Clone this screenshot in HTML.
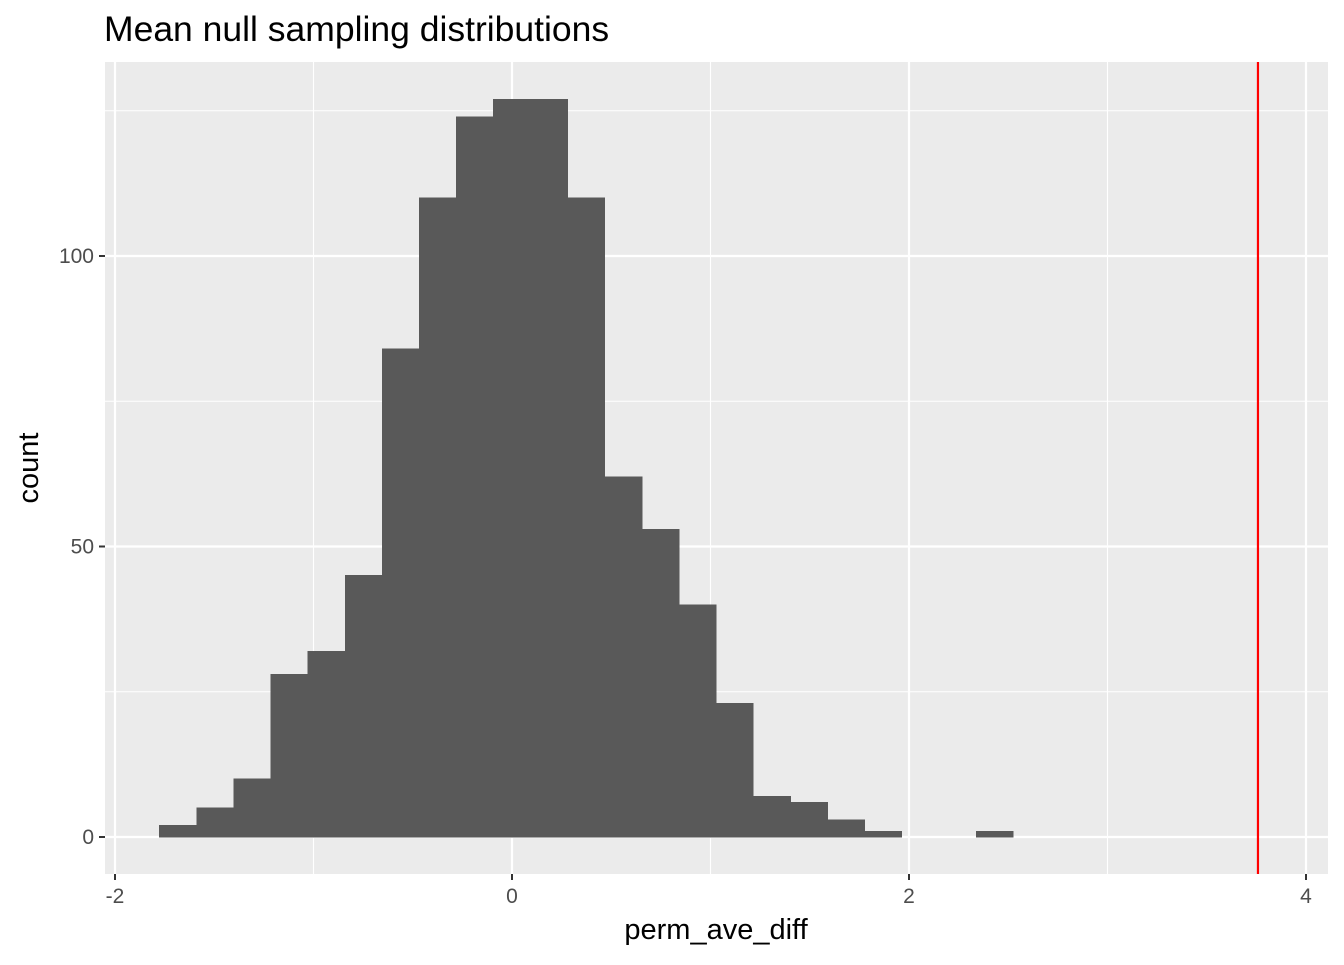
<!DOCTYPE html>
<html><head><meta charset="utf-8"><style>
body{margin:0;background:#fff;}
svg text{font-family:"Liberation Sans",sans-serif;}
</style></head><body>
<svg width="1344" height="960">
<text x="104" y="41" font-size="35.5" fill="#000">Mean null sampling distributions</text>
<rect x="105" y="62" width="1223" height="812" fill="#ebebeb"/>
<g id="grid"></g><g id="bars" shape-rendering="crispEdges"></g><g id="axes"></g>
<text x="716" y="939" font-size="29" text-anchor="middle">perm_ave_diff</text>
<text transform="translate(38,468) rotate(-90)" font-size="29" text-anchor="middle">count</text>
</svg>
<script>
const binStart = -1.776;
const binWidth = 0.187;
const counts = [2,5,10,28,32,45,84,110,124,127,127,110,62,53,40,23,7,6,3,1,0,0,1];
const xTicks = [-2,0,2,4];
const xTickLabels = ["-2","0","2","4"];
const xMinor = [-1,1,3];
const yTicks = [0,50,100];
const yTickLabels = ["0","50","100"];
const yMinor = [25,75,125];
const observed = 3.758;
const NS="http://www.w3.org/2000/svg";
const X=v=>512+v*198.5, Y=v=>837-v*5.81;
const L=105,R=1328,T=62,B=874;
function mk(t,a,p){const e=document.createElementNS(NS,t);for(const k in a)e.setAttribute(k,a[k]);p.appendChild(e);return e;}
const g=document.getElementById('grid'),b=document.getElementById('bars'),ax=document.getElementById('axes');
xMinor.forEach(v=>{const e=mk('line',{x1:X(v),x2:X(v),y1:T,y2:B,stroke:'#fff','stroke-width':1.1},g);

});
yMinor.forEach(v=>{const e=mk('line',{x1:L,x2:R,y1:Y(v),y2:Y(v),stroke:'#fff','stroke-width':1.1},g);

});
xTicks.forEach((v,i)=>{const e=mk('line',{x1:X(v),x2:X(v),y1:T,y2:B,stroke:'#fff','stroke-width':2.2},g);


mk('line',{x1:X(v),x2:X(v),y1:B,y2:B+6,stroke:'#333','stroke-width':2},ax);
const t=mk('text',{x:X(v),y:B+29,'font-size':21,fill:'#4d4d4d','text-anchor':'middle'},ax);t.textContent=xTickLabels[i];

});
yTicks.forEach((v,i)=>{const e=mk('line',{x1:L,x2:R,y1:Y(v),y2:Y(v),stroke:'#fff','stroke-width':2.2},g);


mk('line',{x1:L-6,x2:L,y1:Y(v),y2:Y(v),stroke:'#333','stroke-width':2},ax);
const t=mk('text',{x:L-11,y:Y(v)+7,'font-size':21,fill:'#4d4d4d','text-anchor':'end'},ax);t.textContent=yTickLabels[i];

});
counts.forEach((c,i)=>{if(c<=0)return;const x0=X(binStart+i*binWidth),x1=X(binStart+(i+1)*binWidth);
const r=mk('rect',{x:x0,y:Y(c),width:x1-x0,height:Y(0)-Y(c),fill:'#595959',stroke:'#595959','stroke-width':0.6},b);

});
const ol=mk('line',{x1:X(observed),x2:X(observed),y1:T,y2:B,stroke:'#ff0000','stroke-width':2.2},ax);


</script>
</body></html>
